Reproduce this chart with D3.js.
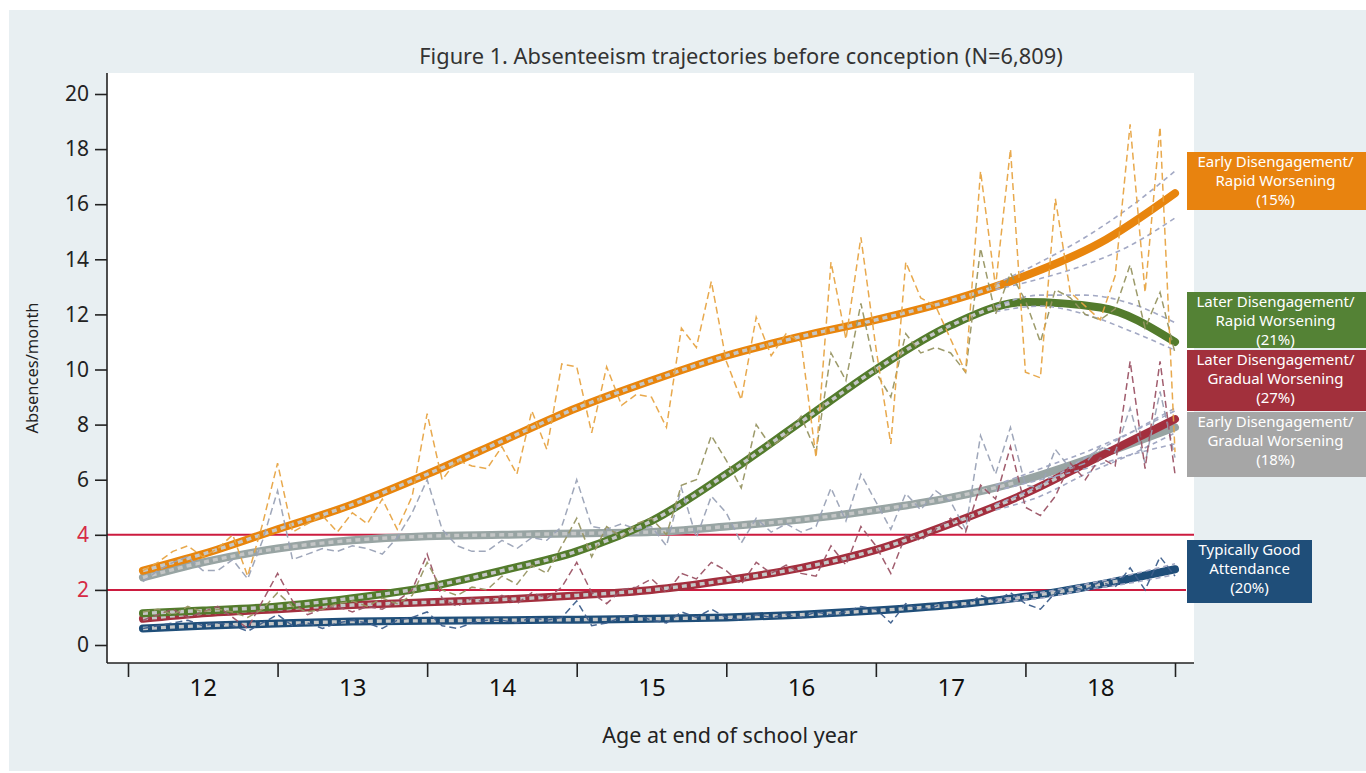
<!DOCTYPE html>
<html>
<head>
<meta charset="utf-8">
<title>Absenteeism trajectories before conception</title>
<script src="https://cdn.jsdelivr.net/npm/d3@7"></script>
<style>
  body { margin: 0; background: #ffffff; }
  svg { display: block; }
  text { font-family: "Noto Sans", "Open Sans", sans-serif; }
</style>
</head>
<body>
<div id="chartholder"></div>
<script>
// monthly observation ages (10 school months per year)
var monthAges = [
  11.6, 11.7, 11.8, 11.9, 12.0, 12.1, 12.2, 12.3, 12.4, 12.5,
  12.6, 12.7, 12.8, 12.9, 13.0, 13.1, 13.2, 13.3, 13.4, 13.5,
  13.6, 13.7, 13.8, 13.9, 14.0, 14.1, 14.2, 14.3, 14.4, 14.5,
  14.6, 14.7, 14.8, 14.9, 15.0, 15.1, 15.2, 15.3, 15.4, 15.5,
  15.6, 15.7, 15.8, 15.9, 16.0, 16.1, 16.2, 16.3, 16.4, 16.5,
  16.6, 16.7, 16.8, 16.9, 17.0, 17.1, 17.2, 17.3, 17.4, 17.5,
  17.6, 17.7, 17.8, 17.9, 18.0, 18.1, 18.2, 18.3, 18.4, 18.5
];

// observed mean absences per month, by trajectory group
var obsEarlyRapid = [
  2.7, 3.0, 3.4, 3.6, 3.2, 3.5, 4.0, 2.5, 4.4, 6.6,
  4.1, 4.4, 4.7, 4.1, 4.8, 4.4, 5.3, 4.2, 5.4, 8.4,
  6.0, 6.7, 6.5, 6.4, 7.2, 6.2, 8.5, 7.1, 10.2, 10.1,
  7.7, 10.1, 8.7, 9.1, 9.0, 7.9, 11.5, 10.8, 13.2, 10.3,
  8.9, 11.9, 10.5, 11.3, 11.0, 6.8, 13.9, 11.1, 14.8, 10.8,
  7.3, 13.9, 12.6, 12.3, 11.1, 9.9, 17.2, 13.0, 18.0, 9.9,
  9.7, 16.2, 12.8, 12.3, 11.8, 13.4, 18.9, 12.8, 18.8, 7.0
];
var obsLaterRapid = [
  1.2, 1.3, 1.1, 1.4, 1.2, 1.3, 1.2, 1.0, 1.3, 1.9,
  1.4, 1.2, 1.3, 1.5, 1.6, 1.4, 1.7, 1.5, 1.8, 3.0,
  2.0, 1.8, 2.1, 2.0, 2.5, 2.2, 2.9, 2.6, 3.6, 4.6,
  3.2, 4.3, 3.9, 4.4, 4.6, 4.0, 5.8, 6.0, 7.6, 6.7,
  5.7, 8.0, 7.2, 7.6, 8.3, 7.0, 10.6, 9.6, 12.4, 9.9,
  9.0, 11.3, 10.6, 10.8, 10.6, 9.9, 14.4, 12.0, 13.5, 12.5,
  11.0, 12.9, 12.6, 12.0, 11.8, 12.2, 13.8, 11.5, 12.8, 10.6
];
var obsLaterGradual = [
  0.9, 1.1, 1.3, 1.0, 1.2, 1.4, 1.0, 0.6, 1.6, 2.6,
  1.6, 1.1, 1.3, 1.4, 1.2, 1.4, 1.3, 1.6, 2.0, 3.3,
  1.7, 1.4, 1.7, 1.5, 1.8, 1.5, 1.9, 1.7, 2.1, 3.0,
  1.9, 1.5, 2.0, 2.1, 2.4, 1.9, 2.6, 2.4, 3.0, 2.7,
  2.2, 3.0, 2.6, 2.9, 2.6, 2.5, 3.6, 2.9, 4.3, 3.6,
  2.6, 4.0, 3.8, 4.2, 4.6, 4.1, 5.8, 5.3, 7.2, 5.0,
  4.7, 5.4, 6.6, 6.0, 6.8, 6.5, 10.3, 6.4, 10.3, 6.2
];
var obsEarlyGradual = [
  2.3, 2.7, 3.0, 3.2, 2.7, 2.7, 3.1, 2.4, 3.8, 5.6,
  3.1, 3.3, 3.5, 3.4, 3.6, 3.5, 3.3, 3.9, 4.8, 6.0,
  4.2, 3.6, 3.4, 3.4, 3.8, 3.5, 3.9, 3.8, 4.3, 6.0,
  4.3, 4.2, 4.4, 4.2, 4.3, 3.6, 5.7, 3.9, 5.4, 4.8,
  3.7, 4.6, 4.1, 4.4, 4.1, 4.3, 5.7, 4.5, 6.2, 5.2,
  4.2, 5.5, 4.9, 5.6, 5.2, 4.2, 7.6, 6.2, 7.9, 5.8,
  5.7, 7.1, 6.4, 6.6, 7.2, 7.0, 8.6, 6.6, 9.2, 6.8
];
var obsGoodAttendance = [
  0.6, 0.7, 0.8, 0.9, 0.7, 0.8, 0.7, 0.5, 0.8, 1.1,
  0.7, 0.8, 0.6, 0.8, 0.9, 0.8, 0.6, 0.9, 1.0, 1.2,
  0.7, 0.6, 0.8, 0.9, 0.9, 0.8, 1.0, 0.9, 1.0, 1.6,
  0.7, 0.8, 1.0, 1.1, 0.9, 0.8, 1.2, 1.0, 1.3, 1.0,
  0.9, 1.1, 1.0, 1.1, 1.0, 1.2, 1.1, 1.2, 1.4, 1.3,
  0.8, 1.5, 1.3, 1.4, 1.6, 1.4, 1.8, 1.6, 1.9, 1.5,
  1.3, 1.9, 2.1, 2.0, 2.3, 2.1, 2.8, 2.0, 3.2, 2.5
];

// fitted trajectories
var fitAges = [11.6, 12, 12.5, 13, 13.5, 14, 14.5, 15, 15.5, 16, 16.5, 17, 17.5, 18, 18.5];
var fitEarlyRapid     = [2.7, 3.3, 4.2, 5.1, 6.2, 7.4, 8.6, 9.6, 10.5, 11.2, 11.8, 12.5, 13.4, 14.6, 16.4];
var fitLaterRapid     = [1.15, 1.25, 1.4, 1.7, 2.1, 2.7, 3.4, 4.5, 6.2, 8.1, 10.0, 11.6, 12.45, 12.25, 11.0];
var fitLaterGradual   = [0.95, 1.15, 1.3, 1.45, 1.55, 1.65, 1.8, 2.0, 2.35, 2.8, 3.45, 4.4, 5.5, 6.85, 8.2];
var fitEarlyGradual   = [2.45, 3.0, 3.5, 3.8, 3.95, 4.0, 4.05, 4.1, 4.3, 4.55, 4.9, 5.35, 6.0, 6.9, 7.9];
var fitGoodAttendance = [0.6, 0.7, 0.78, 0.85, 0.88, 0.9, 0.92, 0.95, 1.0, 1.1, 1.25, 1.45, 1.75, 2.2, 2.75];

// confidence limits at the end of the period
var ciAges = [17.3, 17.6, 17.9, 18.2, 18.5];
var ciEarlyRapidHi     = [13.1, 13.9, 14.8, 15.9, 17.2];
var ciEarlyRapidLo     = [12.9, 13.3, 13.8, 14.5, 15.5];
var ciLaterRapidHi     = [12.3, 12.7, 12.7, 12.4, 11.7];
var ciLaterRapidLo     = [12.1, 12.3, 12.0, 11.4, 10.7];
var ciLaterGradualHi   = [5.1, 5.8, 6.8, 7.7, 8.6];
var ciLaterGradualLo   = [4.9, 5.4, 6.2, 6.9, 7.7];
var ciEarlyGradualHi   = [5.8, 6.4, 7.0, 7.7, 8.5];
var ciEarlyGradualLo   = [5.6, 6.0, 6.4, 6.9, 7.3];
var ciGoodAttendanceHi = [1.65, 1.9, 2.2, 2.55, 2.95];
var ciGoodAttendanceLo = [1.55, 1.7, 2.0, 2.25, 2.55];

var groupLabels = [
  ["Early Disengagement/", "Rapid Worsening", "(15%)"],
  ["Later Disengagement/", "Rapid Worsening", "(21%)"],
  ["Later Disengagement/", "Gradual Worsening", "(27%)"],
  ["Early Disengagement/", "Gradual Worsening", "(18%)"],
  ["Typically Good", "Attendance", "(20%)"]
];

var yTicks = [0, 2, 4, 6, 8, 10, 12, 14, 16, 18, 20];
var thresholds = [4, 2];
var yearBounds = [11.5, 12.5, 13.5, 14.5, 15.5, 16.5, 17.5, 18.5];
var yearLabels = [12, 13, 14, 15, 16, 17, 18];

var groups = [
  {name: "earlyGradual", obs: obsEarlyGradual, fit: fitEarlyGradual, hi: ciEarlyGradualHi, lo: ciEarlyGradualLo,
   color: "#98a4a3", obsColor: "#9aa2b6", box: "#a6a6a6", overlayEnd: 17.5, label: groupLabels[3], boxTop: 412, boxH: 65, boxW: 185},
  {name: "goodAttendance", obs: obsGoodAttendance, fit: fitGoodAttendance, hi: ciGoodAttendanceHi, lo: ciGoodAttendanceLo,
   color: "#1f4e79", obsColor: "#3d5f8c", box: "#1f4e79", overlayEnd: 18.15, label: groupLabels[4], boxTop: 540, boxH: 63, boxW: 125},
  {name: "laterGradual", obs: obsLaterGradual, fit: fitLaterGradual, hi: ciLaterGradualHi, lo: ciLaterGradualLo,
   color: "#a32f3e", obsColor: "#9c5466", box: "#a2303c", overlayEnd: 17.8, label: groupLabels[2], boxTop: 350, boxH: 61, boxW: 185},
  {name: "laterRapid", obs: obsLaterRapid, fit: fitLaterRapid, hi: ciLaterRapidHi, lo: ciLaterRapidLo,
   color: "#537b2c", obsColor: "#979562", box: "#548235", overlayEnd: 17.45, label: groupLabels[1], boxTop: 292, boxH: 56, boxW: 185},
  {name: "earlyRapid", obs: obsEarlyRapid, fit: fitEarlyRapid, hi: ciEarlyRapidHi, lo: ciEarlyRapidLo,
   color: "#e8850d", obsColor: "#e7a443", box: "#e8830f", overlayEnd: 17.4, label: groupLabels[0], boxTop: 152, boxH: 58, boxW: 185}
];

function makeChart() {
  var W = 1366, H = 773;
  var plot = {left: 107, right: 1194, top: 73, bottom: 663};

  var svg = d3.select("#chartholder").append("svg")
      .attr("width", W)
      .attr("height", H);

  svg.append("rect").attr("x", 9).attr("y", 10).attr("width", W - 9).attr("height", 761)
      .attr("fill", "#e8eff2");

  svg.append("rect")
      .attr("x", plot.left).attr("y", plot.top)
      .attr("width", plot.right - plot.left).attr("height", plot.bottom - plot.top)
      .attr("fill", "#ffffff");

  var xScale = d3.scaleLinear().domain([11.5, 18.5]).range([128, 1175]);
  var yScale = d3.scaleLinear().domain([0, 20]).range([645, 94]);

  // title
  svg.append("text")
      .attr("x", 741).attr("y", 64)
      .attr("text-anchor", "middle")
      .attr("font-size", "21.8px")
      .attr("fill", "#333")
      .text("Figure 1. Absenteeism trajectories before conception (N=6,809)");

  // threshold lines
  svg.append("g").selectAll("line")
    .data(thresholds)
    .enter().append("line")
      .attr("x1", plot.left).attr("x2", function(d) { return d == 4 ? 1194 : 1186; })
      .attr("y1", function(d) { return yScale(d); })
      .attr("y2", function(d) { return yScale(d); })
      .attr("stroke", "#cc1b3f")
      .attr("stroke-width", 2);

  var fitLine = d3.line()
      .x(function(d) { return xScale(d[0]); })
      .y(function(d) { return yScale(d[1]); })
      .curve(d3.curveMonotoneX);

  var obsLine = d3.line()
      .x(function(d) { return xScale(d[0]); })
      .y(function(d) { return yScale(d[1]); });

  // thick fitted lines
  var fits = svg.append("g").attr("id", "fits");
  groups.forEach(function(g) {
    var pts = fitAges.map(function(a, i) { return [a, g.fit[i]]; });
    fits.append("path")
        .attr("d", fitLine(pts))
        .attr("fill", "none")
        .attr("stroke", g.color)
        .attr("stroke-width", 8)
        .attr("stroke-linecap", "round");
    // light dashed overlay, stopped at overlayEnd
    var path = fits.append("path")
        .attr("d", fitLine(pts))
        .attr("fill", "none")
        .attr("stroke", "#c4c6c6")
        .attr("stroke-width", 3.4);
    var total = path.node().getTotalLength();
    var cutX = xScale(g.overlayEnd), lo = 0, hi = total;
    for (var k = 0; k < 30; k++) {
      var mid = (lo + hi) / 2;
      if (path.node().getPointAtLength(mid).x < cutX) lo = mid; else hi = mid;
    }
    var dashes = [];
    var pos = 0;
    while (pos + 9 < lo) { dashes.push(5, 4); pos += 9; }
    dashes.push(0, total);
    path.attr("stroke-dasharray", dashes.join(","));
  });

  // confidence limits
  var cis = svg.append("g").attr("id", "cis");
  groups.forEach(function(g) {
    [g.hi, g.lo].forEach(function(arr) {
      var pts = ciAges.map(function(a, i) { return [a, arr[i]]; });
      cis.append("path")
          .attr("d", fitLine(pts))
          .attr("fill", "none")
          .attr("stroke", "#a3a9c4")
          .attr("stroke-width", 1.6)
          .attr("stroke-dasharray", "5,4");
    });
  });

  // observed monthly means
  var obs = svg.append("g").attr("id", "observed");
  groups.forEach(function(g) {
    var pts = monthAges.map(function(a, i) { return [a, g.obs[i]]; });
    obs.append("path")
        .attr("d", obsLine(pts))
        .attr("fill", "none")
        .attr("stroke", g.obsColor)
        .attr("stroke-width", 1.5)
        .attr("stroke-dasharray", "7,4")
        .attr("opacity", 0.95);
  });

  // axes
  var yAxis = svg.append("g")
      .attr("transform", "translate(" + plot.left + ",0)")
      .call(d3.axisLeft(yScale).tickValues(yTicks).tickSize(12).tickPadding(6).tickSizeOuter(0));
  yAxis.select(".domain").attr("d", "M0," + plot.top + "V" + plot.bottom).attr("stroke", "#222").attr("stroke-width", 1.6);
  yAxis.selectAll(".tick line").attr("stroke", "#222").attr("stroke-width", 1.6);
  yAxis.selectAll(".tick text")
      .attr("font-size", "21px")
      .attr("font-family", "\"Noto Sans\", sans-serif")
      .attr("fill", function(d) { return (d == 4 || d == 2) ? "#d62a45" : "#222"; });

  var xAxis = svg.append("g")
      .attr("transform", "translate(0," + plot.bottom + ")")
      .call(d3.axisBottom(xScale).tickValues(yearBounds).tickSize(14).tickFormat("").tickSizeOuter(0));
  xAxis.select(".domain").attr("d", "M" + plot.left + ",0H" + plot.right).attr("stroke", "#222").attr("stroke-width", 1.6);
  xAxis.selectAll(".tick line").attr("stroke", "#222").attr("stroke-width", 1.6);

  var xLabels = svg.append("g")
      .attr("transform", "translate(0," + plot.bottom + ")")
      .call(d3.axisBottom(xScale).tickValues(yearLabels).tickSize(0).tickPadding(16).tickFormat(d3.format("d")));
  xLabels.select(".domain").remove();
  xLabels.selectAll(".tick text")
      .attr("font-size", "24px")
      .attr("font-family", "\"Noto Sans\", sans-serif")
      .attr("fill", "#111");

  svg.append("text")
      .attr("x", 730).attr("y", 743)
      .attr("text-anchor", "middle")
      .attr("font-size", "21.5px")
      .attr("fill", "#222")
      .text("Age at end of school year");

  svg.append("text")
      .attr("transform", "translate(38,368) rotate(-90)")
      .attr("text-anchor", "middle")
      .attr("font-size", "16.5px")
      .attr("fill", "#222")
      .text("Absences/month");

  // labels on the right
  var boxes = svg.append("g").attr("id", "labels");
  groups.forEach(function(g) {
    var b = boxes.append("g");
    b.append("rect")
        .attr("x", 1187).attr("y", g.boxTop)
        .attr("width", g.boxW).attr("height", g.boxH)
        .attr("fill", g.box);
    var cx = 1187 + Math.min(g.boxW, 177) / 2;
    b.selectAll("text")
      .data(g.label)
      .enter().append("text")
        .attr("x", cx)
        .attr("y", function(d, i) { return g.boxTop + 15 + i * 19; })
        .attr("text-anchor", "middle")
        .attr("font-size", "15px")
        .attr("fill", "#ffffff")
        .text(function(d) { return d; });
  });
}

makeChart();
</script>
</body>
</html>
